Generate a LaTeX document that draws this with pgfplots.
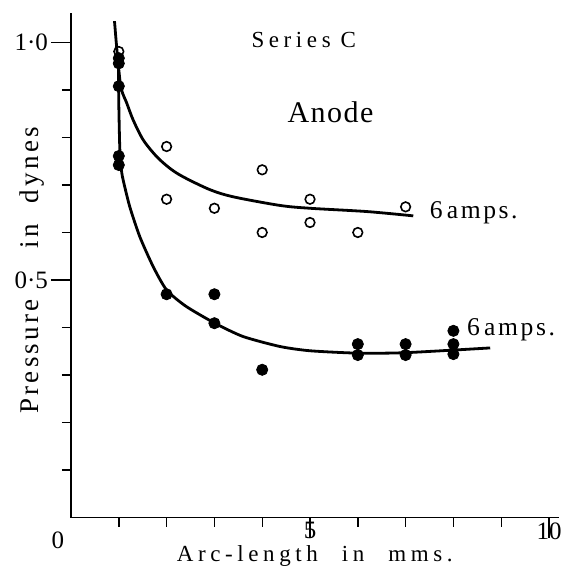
\documentclass[border=0pt]{standalone}
\usepackage{fontspec}
\setmainfont{Liberation Serif}
\newfontfamily\lsa{Liberation Serif}[LetterSpace=20]
\newfontfamily\lsb{Liberation Serif}[LetterSpace=10]
\newfontfamily\lse{Liberation Serif}[LetterSpace=12]
\newfontfamily\lsc{Liberation Serif}[LetterSpace=20]
\newfontfamily\lsd{Liberation Serif}[LetterSpace=5]
\usepackage{pgfplots}
\pgfplotsset{compat=1.18}
\begin{document}
\begin{tikzpicture}
\useasboundingbox (-35.5pt,-29.75pt) rectangle (248pt,258.75pt);
\begin{axis}[
  x=23.9pt, y=237.5pt,
  xmin=0, xmax=10.2, ymin=0, ymax=1.062,
  axis x line*=bottom, axis y line*=left,
  axis line style={line width=0.9pt, -},
  tick align=outside,
  major tick length=10pt,
  minor tick length=4.5pt,
  tick style={line width=0.7pt, black},
  minor tick style={line width=0.7pt, black},
  xtick={5,10}, xticklabels={5,10},
  minor xtick={1,2,3,4,6,7,8,9},
  ytick={0.5,1.0}, yticklabels={0·5,1·0},
  minor ytick={0.1,0.2,0.3,0.4,0.6,0.7,0.8,0.9},
  ticklabel style={font=\fontsize{12.5}{14}\selectfont},
  yticklabel style={xshift=2pt},
  xticklabel style={yshift=11pt},
  xlabel={{\lsa\fontsize{11.5}{13}\selectfont Arc-length\hspace{12pt}in\hspace{12pt}mms.}},
  ylabel={{\lse\fontsize{13.5}{15}\selectfont Pressure\hspace{25.5pt}in\hspace{10.5pt}dynes}},
  xlabel style={at={(axis description cs:0.5,-0.077)}, anchor=center},
  ylabel style={at={(axis description cs:-0.080,0.49)}, anchor=center},
  clip=false,
]
% upper series (open circles)
\addplot[only marks, mark=o, mark size=2.4pt, mark options={line width=0.8pt, black}] coordinates {
  (1,0.981) (2,0.781) (2,0.670) (3,0.651) (4,0.732) (4,0.600)
  (5,0.670) (5,0.621) (6,0.600) (7,0.654)
};
% lower series (filled)
\addplot[only marks, mark=*, mark size=2.8pt, mark options={black, fill=black}] coordinates {
  (1,0.967) (1,0.956) (1,0.908) (1,0.761) (1,0.742)
  (2,0.470) (3,0.470) (3,0.409) (4,0.311)
  (6,0.365) (6,0.342) (7,0.365) (7,0.342)
  (8,0.393) (8,0.365) (8,0.344)
};
% upper fitted curve
\addplot[black, line width=1.4pt, smooth, tension=0.5] coordinates {
  (0.91,1.045) (0.96,0.985) (1.03,0.915) (1.08,0.893) (1.16,0.874) (1.30,0.837)
  (1.51,0.795) (1.79,0.760) (2.07,0.735) (2.35,0.717) (2.91,0.690)
  (3.4,0.675) (4.37,0.657) (5.0,0.651) (6.2,0.644) (7.16,0.635)
};
% lower fitted curve
\addplot[black, line width=1.4pt, smooth, tension=0.4] coordinates {
  (0.99,0.965) (1.0,0.87) (1.02,0.78) (1.05,0.735) (1.09,0.711)
  (1.23,0.654) (1.44,0.591) (1.72,0.528) (2.0,0.479) (2.4,0.445)
  (3.01,0.409) (3.6,0.381) (4.37,0.360) (5.0,0.351) (6.0,0.346)
  (7.0,0.347) (8.77,0.357)
};
\node[font=\fontsize{12.5}{14}\selectfont] at (axis cs:0,0) [xshift=-6.5pt, yshift=-11.25pt] {0};
\node[font=\lsc\fontsize{11.5}{13}\selectfont] at (axis cs:4.87,1.005) {Series\hspace{5pt}C};
\node[font=\lsd\fontsize{15}{17}\selectfont] at (axis cs:5.43,0.854) {Anode};
\node[anchor=west, inner sep=0pt, font=\lsb\fontsize{12.8}{15}\selectfont] at (axis cs:7.5,0.641) {6\,amps.};
\node[anchor=west, inner sep=0pt, font=\lsb\fontsize{12.8}{15}\selectfont] at (axis cs:8.28,0.395) {6\,amps.};
\end{axis}
\end{tikzpicture}
\end{document}
